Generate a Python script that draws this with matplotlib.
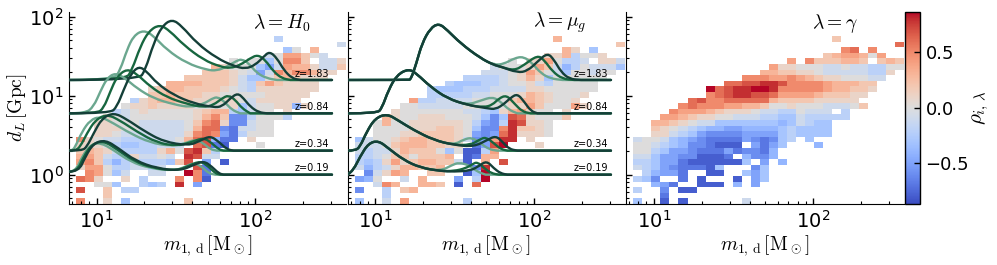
import numpy as np
import matplotlib
matplotlib.use('Agg')
import matplotlib.pyplot as plt
from matplotlib.path import Path
from matplotlib.patches import PathPatch

plt.rcParams['mathtext.fontset'] = 'cm'

# correlation per cell, one string per row from the bottom, one char per column
# digit = +tenths, letter a..i = -tenths, dot = empty cell
rho_h0 = [
    "5..1.c......2",
    "...2",
    "7..2.bb",
    "..00c..bcb.8.e",
    "651..1.b...5.5h",
    ".540ca..aa..95g",
    "1440bbaaba...7g",
    "452bdbabbbc27.e.h",
    "342abb1aa0a.87aa",
    "2321abbbb130782b",
    "1110bccbbaaa.67gh...0",
    "510aabbbaaa0367dgg.1",
    "..110aaaaaaa1565egb000",
    "..11100aaaaa0366fgaa00",
    "..11000aaaaa02561ffa00",
    "...10a00000001352ffb000b",
    "....ba01000001233bca00.1",
    ".....0112111100001ca0011d1",
    "......b123322111110a11111",
    "........223222110000011111",
    "........1233222210ab1111111",
    "..........33332221ab2421111",
    "............222221acc0232111",
    "..............22210aea5355311",
    "...............31000cea4331aa2",
    ".................0.00c0552.aa1",
    ".....................a04420a",
    ".......................c0.3",
    ".............................a",
    "......................b",
]
rho_mug = [
    "c..a.4......b",
    "...b",
    "f..b.23",
    "..a53..332.h.6",
    "ed0..a.3...e.b9",
    ".fa143..22..hc9",
    "adba133223...f8",
    "bcb14123322ah.3.7",
    "bba02202223.hg33",
    "abaa132220c0hhb4",
    "aaa023332211.ge79...1",
    "ca0012332221afe488.1",
    "..00011222210efe681110",
    "..00001112210cff582210",
    "..03001111110befb87110",
    "...3100111000acfc7610002",
    "....10000000aabc134100.1",
    ".....00aaaaa00000114200041",
    "......4bbaaaa000023321001",
    "........bbbbbaa00013210001",
    "........bcccbbbaaaa11000000",
    "..........bcccbba001ab00000",
    "............bbbba0131c000000",
    "..............aaa01420ac00a00",
    "...............a000142adb0aaac",
    ".................0.1140bba.11a",
    ".....................113b001",
    ".......................31.c",
    ".............................2",
    "......................3",
]
rho_gamma = [
    "c..h.h......a",
    "...g",
    "b..f.hh",
    "..deg..hhh.d.e",
    "bcf..g.h...h.ec",
    ".bdeeg..hh..cec",
    "abcefggghc...fc",
    "bbceeghhhhhhc.e.d",
    "aaceeffhhhg.dffd",
    "00bceefgggegffgd",
    "00abcdffghhh.egec...d",
    "a00acdefggggefgfcb.c",
    "..11abceffffeeeecbcccc",
    "..210abcddeeddddcbcccc",
    "..33210aacccccccdcabcc",
    "...44321100aaabbccabbbbb",
    "....5444321110aabb0aaa.b",
    ".....5655544332001000aaa02",
    "......6755666663222211111",
    "........567887764444322211",
    "........9678899855555433221",
    "..........66778875555433322",
    "............55544543211000aa",
    "..............3322110aaaaabb1",
    "...............411000aa0aabb00",
    ".................4.5222332.232",
    ".....................2344304",
    ".......................56.5",
    ".............................6",
    "......................2",
]

# curves as (log10 m, log10 d), z=1.83 .. z=0.19, light, mid, dark
h0_curves = [
    # z=1.83
    ([1.107,1.149,1.191,1.233,1.296,1.359,1.443,1.569,1.695,1.758,1.821,1.884,1.916,1.958,2.011,2.074,2.137],
     [1.198,1.325,1.578,1.757,1.830,1.757,1.578,1.409,1.325,1.316,1.367,1.443,1.461,1.409,1.283,1.219,1.198]),
    ([1.181,1.223,1.275,1.328,1.397,1.464,1.548,1.674,1.779,1.842,1.905,1.968,2.015,2.063,2.115,2.168,2.221],
     [1.198,1.325,1.620,1.815,1.902,1.815,1.641,1.451,1.367,1.346,1.388,1.473,1.517,1.451,1.304,1.219,1.198]),
    ([1.265,1.307,1.359,1.412,1.475,1.538,1.632,1.758,1.863,1.937,2.000,2.053,2.090,2.137,2.179,2.231,2.284],
     [1.198,1.325,1.662,1.878,1.969,1.878,1.662,1.473,1.376,1.338,1.388,1.494,1.559,1.473,1.325,1.219,1.198]),
    # z=0.84
    ([.929,.981,1.023,1.065,1.118,1.181,1.254,1.359,1.485,1.590,1.674,1.727,1.763,1.805,1.853,1.905],
     [.776,.861,1.051,1.219,1.289,1.219,1.093,.966,.890,.852,.895,.962,.985,.924,.819,.776]),
    ([1.002,1.044,1.086,1.128,1.191,1.254,1.338,1.443,1.569,1.674,1.737,1.790,1.832,1.874,1.916,1.968],
     [.776,.840,1.051,1.241,1.340,1.274,1.114,.979,.895,.852,.882,.966,1.006,.945,.840,.776]),
    ([1.086,1.128,1.170,1.212,1.265,1.317,1.380,1.485,1.611,1.737,1.790,1.842,1.889,1.926,1.968,2.021,2.074],
     [.776,.861,1.072,1.262,1.374,1.304,1.156,1.008,.903,.852,.861,.966,1.032,.966,.861,.789,.776]),
    # z=0.34
    ([.845,.866,.908,.960,1.023,1.107,1.212,1.338,1.464,1.548,1.622,1.674,1.716,1.758],
     [.304,.354,.544,.692,.736,.650,.523,.405,.363,.388,.449,.397,.321,.304]),
    ([.866,.897,.939,.992,1.065,1.149,1.254,1.380,1.506,1.590,1.674,1.727,1.769,1.800],
     [.304,.354,.523,.692,.765,.684,.544,.405,.363,.405,.470,.397,.321,.304]),
    ([.908,.939,.981,1.034,1.107,1.191,1.296,1.422,1.580,1.653,1.716,1.769,1.821,1.863],
     [.304,.354,.523,.713,.786,.700,.557,.418,.367,.430,.491,.418,.321,.304]),
    # z=0.19
    ([.866,.908,.960,1.023,1.107,1.212,1.338,1.485,1.548,1.611,1.664,1.706,1.748],
     [.038,.228,.376,.407,.312,.165,.080,.051,.089,.153,.101,.017,0]),
    ([.876,.918,.971,1.044,1.128,1.233,1.359,1.506,1.580,1.653,1.706,1.748,1.779],
     [.038,.228,.388,.428,.321,.173,.080,.051,.110,.175,.101,.017,0]),
    ([.887,.929,.981,1.055,1.139,1.244,1.380,1.527,1.611,1.674,1.727,1.769,1.800],
     [.038,.228,.397,.440,.333,.177,.080,.051,.122,.175,.101,.017,0]),
]

# for mu_g the left hump is the same for all three, only the right part moves
mug_hump = [
    ([1.205,1.225,1.259,1.295,1.347,1.400,1.453,1.537,1.663,1.747],
     [1.198,1.205,1.409,1.662,1.852,1.915,1.831,1.662,1.473,1.388]),
    ([1.011,1.042,1.084,1.137,1.211,1.263,1.347,1.453,1.579],
     [.776,.840,1.072,1.262,1.340,1.274,1.114,.966,.882]),
    ([.874,.905,.947,1.000,1.074,1.147,1.242,1.368,1.495],
     [.304,.354,.544,.713,.770,.684,.565,.439,.376]),
    ([.825,.863,.905,.958,1.021,1.084,1.179,1.284,1.411],
     [0,.059,.228,.397,.430,.333,.186,.089,.046]),
]
mug_tails = [
    [([1.811,1.874,1.933,1.989,2.042,2.105,2.179],[1.401,1.473,1.495,1.409,1.283,1.215,1.198]),
     ([1.789,1.874,1.937,2.021,2.063,2.116,2.179,2.253],[1.367,1.316,1.388,1.512,1.451,1.304,1.211,1.198]),
     ([1.789,1.895,1.958,2.021,2.084,2.126,2.168,2.221,2.295],[1.367,1.291,1.312,1.430,1.542,1.451,1.304,1.211,1.198])],
    [([1.663,1.737,1.789,1.842,1.895],[.937,.985,.924,.819,.776]),
     ([1.684,1.737,1.779,1.827,1.874,1.926,1.979],[.852,.882,.966,1.006,.903,.797,.776]),
     ([1.705,1.758,1.811,1.853,1.895,1.937,1.979,2.021],[.840,.827,.895,.975,1.023,.924,.806,.776])],
    [([1.558,1.611,1.663,1.716,1.768],[.447,.470,.397,.321,.304]),
     ([1.600,1.653,1.695,1.747,1.789,1.832],[.376,.439,.478,.397,.325,.304]),
     ([1.621,1.705,1.758,1.800,1.842,1.895],[.354,.439,.491,.418,.325,.304])],
    [([1.484,1.526,1.589,1.642,1.695],[.122,.153,.122,.038,0]),
     ([1.495,1.568,1.611,1.642,1.688,1.731,1.779],[.046,.080,.131,.162,.080,.017,0]),
     ([1.495,1.600,1.653,1.701,1.747,1.789,1.832],[.038,.051,.110,.175,.080,.017,0])],
]

z_labels = ['z=1.83', 'z=0.84', 'z=0.34', 'z=0.19']
z_label_d = [18.8, 7.2, 2.45, 1.215]
titles = [r'$\lambda=H_0$', r'$\lambda=\mu_g$', r'$\lambda=\gamma$']
title_x = [.77, .765, .75]

shades = ['#6ba78f', '#17663f', '#143f38']
vlim = 0.87
NCOL, NROW = 30, 34
LEFT_X = 0.826
RIGHT_X = 2.483


def to_grid(rows):
    out = np.full((NROW, NCOL), np.nan)
    for i, row in enumerate(rows):
        for j, ch in enumerate(row):
            if ch == '.':
                continue
            out[i, j] = int(ch)/10 if ch.isdigit() else -(ord(ch)-96)/10
    return out


def draw_curve(ax, lm, ld, color):
    # read points are the control points of a quadratic path, so the line stays smooth
    lm = np.r_[LEFT_X, lm, RIGHT_X]
    ld = np.r_[ld[0], ld, ld[-1]]
    pts = np.column_stack([lm, ld])
    mids = (pts[1:-2] + pts[2:-1])/2
    verts = [pts[0]]
    codes = [Path.MOVETO]
    for p, m in zip(pts[1:-2], mids):
        verts += [p, m]
        codes += [Path.CURVE3, Path.CURVE3]
    verts += [pts[-2], pts[-1]]
    codes += [Path.LINETO, Path.LINETO]
    path = Path(10**np.array(verts), codes)
    ax.add_patch(PathPatch(path, fill=False, edgecolor=color, lw=1.7, capstyle='round', zorder=3))


W, H = 997, 265
fig = plt.figure(figsize=(W/100, H/100), dpi=100)
top, bottom = 11.5, 204
lefts = [69, 347.5, 626]
rights = [346, 625, 904]
x_edges = 10**(0.872 + np.arange(NCOL+1)*9/158.7)
y_edges = 10**(-0.371 + np.arange(NROW+1)*5.6/79)

axes = []
for k, rows in enumerate([rho_h0, rho_mug, rho_gamma]):
    ax = fig.add_axes([lefts[k]/W, 1-bottom/H, (rights[k]-lefts[k])/W, (bottom-top)/H])
    axes.append(ax)
    mesh = ax.pcolormesh(x_edges, y_edges, np.ma.masked_invalid(to_grid(rows)),
                         cmap='coolwarm', vmin=-vlim, vmax=vlim, linewidth=0, zorder=1)
    ax.set_xscale('log')
    ax.set_yscale('log')
    ax.set_xlim(10**0.826, 10**(0.826+277/158.7))
    ax.set_ylim(10**-0.371, 116)
    ax.spines['top'].set_visible(False)
    ax.spines['right'].set_visible(False)
    ax.tick_params(which='major', direction='in', length=4, width=1, labelsize=14, pad=4)
    ax.tick_params(which='minor', direction='in', length=2.5, width=0.8)
    ax.minorticks_on()
    ax.set_xlabel(r'$m_{1,\,\rm d}\,[\rm M_\odot]$', fontsize=14, labelpad=1)
    ax.text(title_x[k], .94, titles[k], transform=ax.transAxes, ha='center', va='center', fontsize=14)
    if k > 0:
        ax.tick_params(which='both', labelleft=False)

axes[0].set_ylabel(r'$d_L\,[\rm Gpc]$', fontsize=14, labelpad=0)

for i, (lm, ld) in enumerate(h0_curves):
    draw_curve(axes[0], lm, ld, shades[i % 3])

for i in range(4):
    for s in range(3):
        lm = mug_hump[i][0] + mug_tails[i][s][0]
        ld = mug_hump[i][1] + mug_tails[i][s][1]
        draw_curve(axes[1], lm, ld, shades[s])

for ax in axes[:2]:
    for label, d in zip(z_labels, z_label_d):
        ax.text(290, d, label, ha='right', va='center', fontsize=7, zorder=4)

cax = fig.add_axes([905/W, 1-bottom/H, 15/W, (bottom-top)/H])
cb = fig.colorbar(mesh, cax=cax, ticks=[-0.5, 0, 0.5])
cb.ax.tick_params(direction='in', length=4, width=1, labelsize=13, pad=4)
cb.ax.minorticks_off()
cb.outline.set_linewidth(1)
cb.set_label(r'$\rho_{i,\,\lambda}$', fontsize=15, labelpad=1)

fig.savefig('out.png', dpi=100)
